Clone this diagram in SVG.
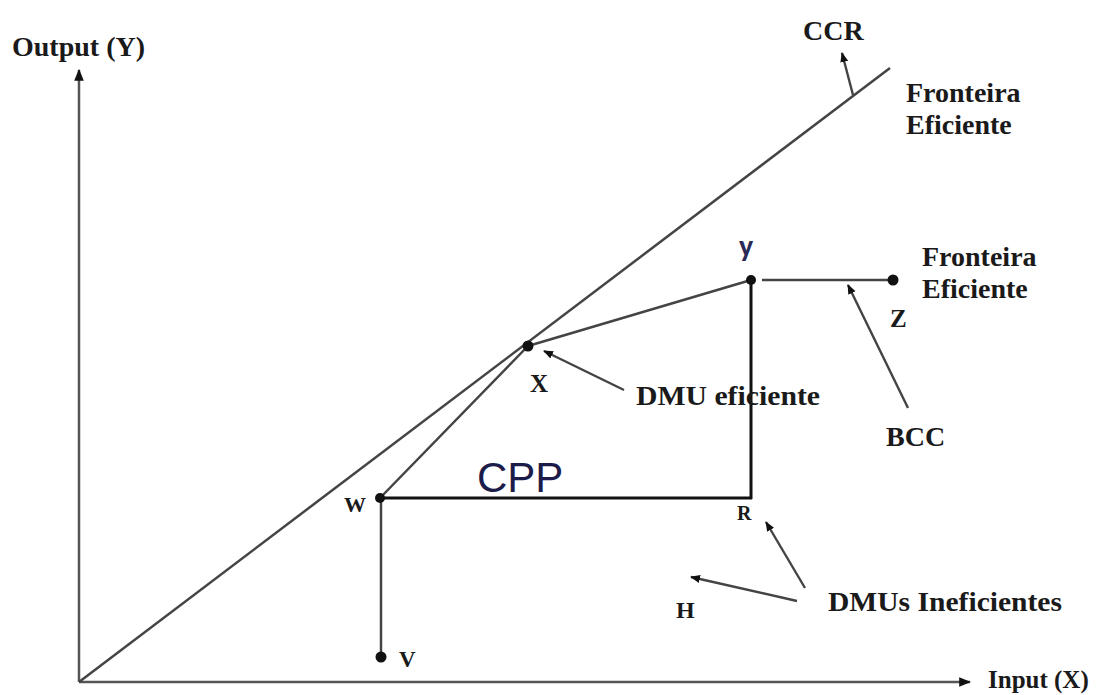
<svg xmlns="http://www.w3.org/2000/svg" width="1102" height="695" viewBox="0 0 1102 695">
<style>
.lbl{font-family:"Liberation Serif","Times New Roman",serif;font-weight:bold;font-size:28px;fill:#1a1a1a}
.ax{stroke:#555;stroke-width:2.5;fill:none}
.ln{stroke:#444;stroke-width:2.5;fill:none}
.bx{stroke:#111;stroke-width:3;fill:none}
.ar{stroke:#444;stroke-width:2.4;fill:none;marker-end:url(#ah)}
.dot{fill:#111}
</style>
<defs>
<marker id="ah" viewBox="0 0 10 10" refX="9" refY="5" markerWidth="10" markerHeight="10" orient="auto" markerUnits="userSpaceOnUse">
<path d="M0,1 L10,5 L0,9 z" fill="#111"/>
</marker>
<marker id="axh" viewBox="0 0 10 10" refX="9" refY="5" markerWidth="12" markerHeight="12" orient="auto" markerUnits="userSpaceOnUse">
<path d="M0,1 L10,5 L0,9 z" fill="#111"/>
</marker>
</defs>
<rect width="1102" height="695" fill="#fff"/>
<g id="connectors">
<line class="ax" x1="79" y1="682" x2="79" y2="70" marker-end="url(#axh)"/>
<line class="ax" x1="79" y1="682" x2="970" y2="682" marker-end="url(#axh)"/>
<line class="ln" x1="79" y1="682" x2="890" y2="68"/>
<line class="ar" x1="853" y1="95" x2="842" y2="53"/>
<line class="ln" x1="380" y1="498" x2="528" y2="346"/>
<line class="ln" x1="528" y1="346" x2="751" y2="280"/>
<line class="ln" x1="762" y1="280" x2="893" y2="280"/>
<line class="bx" x1="751" y1="280" x2="751" y2="499"/>
<line class="bx" x1="380" y1="498" x2="752" y2="498"/>
<line class="ln" x1="381" y1="498" x2="381" y2="657"/>
<line class="ar" x1="908" y1="408" x2="848" y2="285"/>
<line class="ar" x1="624" y1="390" x2="544" y2="351"/>
<line class="ar" x1="805" y1="588" x2="766" y2="522"/>
<line class="ar" x1="797" y1="601" x2="691" y2="577"/>
</g>
<g id="axis-labels">
<text class="lbl" x="12" y="56">Output (Y)</text>
<text class="lbl" x="988" y="688" style="font-size:25px">Input (X)</text>
</g>
<g id="ccr">
<text class="lbl" x="803" y="40">CCR</text>
<text class="lbl" x="906" y="102">Fronteira</text>
<text class="lbl" x="906" y="134">Eficiente</text>
</g>
<g id="node-y">
<circle class="dot" cx="751" cy="280" r="5"/>
<text x="739" y="256" font-family="Carlito,'Liberation Sans',sans-serif" font-weight="bold" font-size="30" fill="#2a2a55">y</text>
</g>
<g id="node-z">
<circle class="dot" cx="893" cy="280" r="5.5"/>
<text class="lbl" x="890" y="327" style="font-size:25px">Z</text>
</g>
<g id="bcc">
<text class="lbl" x="922" y="266">Fronteira</text>
<text class="lbl" x="922" y="298">Eficiente</text>
<text class="lbl" x="886" y="446">BCC</text>
</g>
<g id="node-x">
<circle class="dot" cx="528" cy="346" r="5.5"/>
<text class="lbl" x="530" y="392" style="font-size:25px">X</text>
<text class="lbl" x="636" y="405" textLength="184" lengthAdjust="spacingAndGlyphs">DMU eficiente</text>
</g>
<g id="cpp">
<text x="477" y="492" font-family="'Liberation Sans',Arial,sans-serif" font-size="42" fill="#1c1c4a">CPP</text>
</g>
<g id="node-w">
<circle class="dot" cx="380" cy="498" r="5"/>
<text class="lbl" x="344" y="512" style="font-size:22px">W</text>
</g>
<g id="node-r">
<text class="lbl" x="737" y="520" style="font-size:20px">R</text>
</g>
<g id="node-h">
<text class="lbl" x="676" y="618" style="font-size:24px">H</text>
<text class="lbl" x="828" y="611" textLength="234" lengthAdjust="spacingAndGlyphs">DMUs Ineficientes</text>
</g>
<g id="node-v">
<circle class="dot" cx="381" cy="657" r="5.5"/>
<text class="lbl" x="399" y="667" style="font-size:23px">V</text>
</g>
</svg>
